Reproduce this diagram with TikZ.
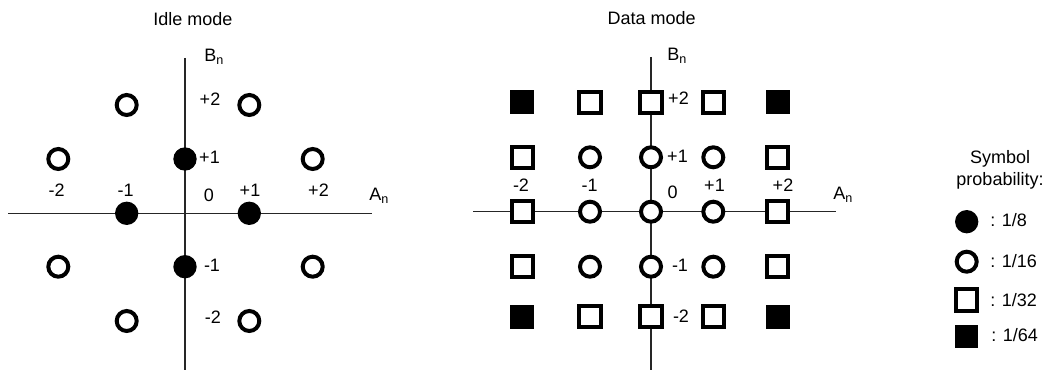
\documentclass[tikz,border=0pt]{standalone}
\usepackage{fontspec}
\setmainfont{Liberation Sans}
\usetikzlibrary{positioning}

\begin{document}
\begin{tikzpicture}[
    x=0.75pt, y=-0.75pt,
    every node/.style={inner sep=0pt, font=\fontsize{13.5}{16}\selectfont},
    axis/.style={line width=0.8pt, draw=black!85},
    dot/.style={circle, fill=black, minimum size=17.5pt},
    ring/.style={circle, draw, fill=white, line width=3pt, minimum size=15pt},
    box/.style={rectangle, draw, fill=white, line width=3pt, minimum size=15.8pt},
    blk/.style={rectangle, fill=black, minimum size=18pt},
    num/.style={anchor=base},
    axlbl/.style={anchor=base west},
  ]
  \useasboundingbox (0,0) rectangle (1050,370);

  % Idle mode (LEFT plot)
  \node[num] (ititle) at (193,25.3) {Idle mode};
  \coordinate (iw) at (8,213.3);
  \coordinate (ie) at (372,213.3);
  \coordinate (in) at (185,58);
  \coordinate (is) at (185,370);
  \draw[axis] (iw) -- (ie);
  \draw[axis] (in) -- (is);
  % inner points
  \node[dot] (i23) at (126.7,213.3) {};
  \node[dot] (i43) at (249.3,213.3) {};
  \node[dot] (i32) at (185,159) {};
  \node[dot] (i34) at (185,266.7) {};
  % outer points
  \node[ring] (i21) at (126.7,105) {};
  \node[ring] (i41) at (249.3,105) {};
  \node[ring] (i12) at (58.3,159) {};
  \node[ring] (i52) at (312.7,159) {};
  \node[ring] (i14) at (58.3,266.7) {};
  \node[ring] (i54) at (312.7,266.7) {};
  \node[ring] (i25) at (126.7,321) {};
  \node[ring] (i45) at (249.3,321) {};
  % axis labels
  \node[axlbl] (ibn) at (204,62) {B\textsubscript{n}};
  \node[axlbl] (ian) at (369,201) {A\textsubscript{n}};
  \node[num] (ib2)  at (210,106)   {+2};
  \node[num] (ib1)  at (209.5,164) {+1};
  \node[num] (ibm1) at (212,272)   {-1};
  \node[num] (ibm2) at (213,324)   {-2};
  \node[num] (iam2) at (56.7,197)  {-2};
  \node[num] (iam1) at (125.7,197) {-1};
  \node[num] (i0)   at (209,201.7) {0};
  \node[num] (ia1)  at (250,197)   {+1};
  \node[num] (ia2)  at (318.5,197) {+2};

  % Data mode (RIGHT plot)
  \node[num] (dtitle) at (651.7,25) {Data mode};
  \coordinate (dw) at (473,211.7);
  \coordinate (de) at (836,211.7);
  \coordinate (dn) at (651,57);
  \coordinate (ds) at (651,370);
  \draw[axis] (dw) -- (de);
  \draw[axis] (dn) -- (ds);
  % corners
  \node[blk] (d11) at (522.3,102.3) {};
  \node[blk] (d51) at (777.7,102.3) {};
  \node[blk] (d15) at (522.3,316.7) {};
  \node[blk] (d55) at (777.7,316.7) {};
  % edge squares
  \foreach \c/\x in {2/590,3/651,4/713.3} {
    \node[box] (d\c1) at (\x,102.3) {};
    \node[box] (d\c5) at (\x,316.7) {};
  }
  \foreach \r/\y in {2/157.3,3/211.7,4/266.7} {
    \node[box] (d1\r) at (522.3,\y) {};
    \node[box] (d5\r) at (777.7,\y) {};
  }
  % inner rings
  \foreach \c/\x in {2/590,3/651,4/713.3}
    \foreach \r/\y in {2/157.3,3/211.7,4/266.7}
      \node[ring] (d\c\r) at (\x,\y) {};
  % axis labels
  \node[axlbl] (dbn) at (667,61)    {B\textsubscript{n}};
  \node[axlbl] (dan) at (833,199.3) {A\textsubscript{n}};
  \node[num] (db2)  at (678.5,105)   {+2};
  \node[num] (db1)  at (677.5,163)   {+1};
  \node[num] (dbm1) at (680,271.7)   {-1};
  \node[num] (dbm2) at (681,323)     {-2};
  \node[num] (dam2) at (521,191.7)   {-2};
  \node[num] (dam1) at (589.7,191.7) {-1};
  \node[num] (d0)   at (672.5,199)   {0};
  \node[num] (da1)  at (714.5,191.7) {+1};
  \node[num] (da2)  at (783,191.7)   {+2};

  % Legend
  \node[num] (lhead)  at (1000,164)   {Symbol};
  \node[num] (lhead2) at (1000,185.3) {probability:};
  \node[dot]  (l8)  at (966.7,221.7) {};
  \node[ring] (l16) at (966.7,261.7) {};
  \node[box]  (l32) at (966.7,300)   {};
  \node[blk, minimum size=17.2pt] (l64) at (966.7,336.7) {};
  \node[axlbl] (l8t)  at (990,227)   {: 1/8};
  \node[axlbl] (l16t) at (990,267.5) {: 1/16};
  \node[axlbl] (l32t) at (990,306.5) {: 1/32};
  \node[axlbl] (l64t) at (991,342)   {: 1/64};
\end{tikzpicture}
\end{document}
